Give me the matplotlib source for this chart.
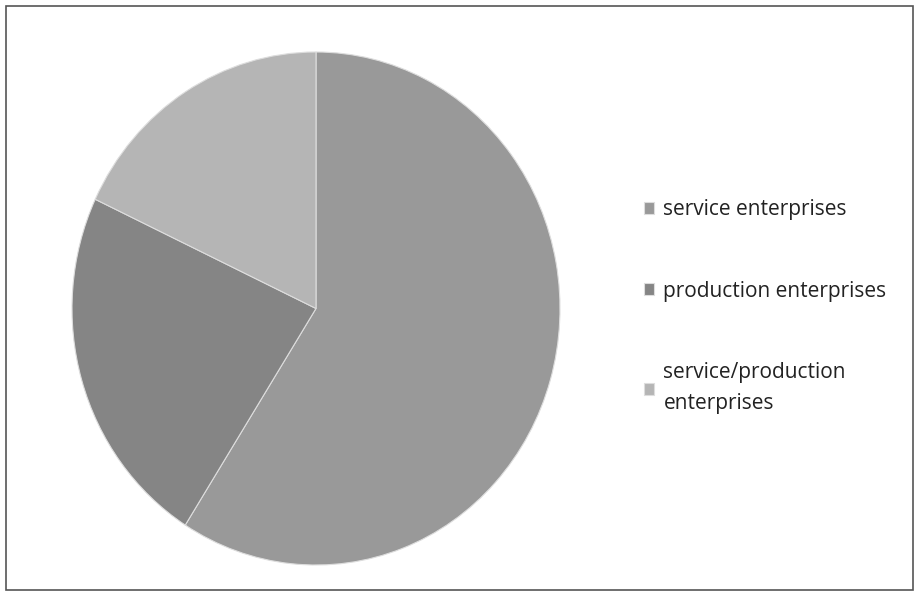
import matplotlib.pyplot as plt
from matplotlib.patches import Rectangle

# Shares (percent)
labels = ["service enterprises", "production enterprises", "service/production\nenterprises"]
shares = [59, 23, 18]
colors = ["#999999", "#858585", "#b5b5b5"]

plt.rcParams['font.family'] = ['Open Sans', 'DejaVu Sans']

fig = plt.figure(figsize=(9.19, 5.96), dpi=100)
fig.patch.set_facecolor("white")

# chart frame
fig.patches.append(Rectangle((0.006, 0.01), 0.988, 0.98, transform=fig.transFigure,
                             fill=False, edgecolor="#555555", linewidth=1.2))

# pie axes: slightly taller than wide, like the scan
ax = fig.add_axes([72 / 919, 1 - 565 / 596, 488 / 919, 513 / 596])
wedges, _ = ax.pie(shares, colors=colors, startangle=90, counterclock=False,
                   wedgeprops=dict(linewidth=0.8, edgecolor="#dddddd"))
ax.set_aspect('auto')
ax.set_xlim(-1, 1)
ax.set_ylim(-1, 1)

leg = fig.legend(wedges, labels, loc="upper left", bbox_to_anchor=(0.68, 0.697),
                 frameon=False, fontsize=15, handlelength=0.5, handleheight=0.5,
                 handletextpad=0.45, labelspacing=2.9)
for t in leg.get_texts():
    t.set_color("#222222")
    t.set_linespacing(1.6)

fig.savefig("out.png", dpi=100)
